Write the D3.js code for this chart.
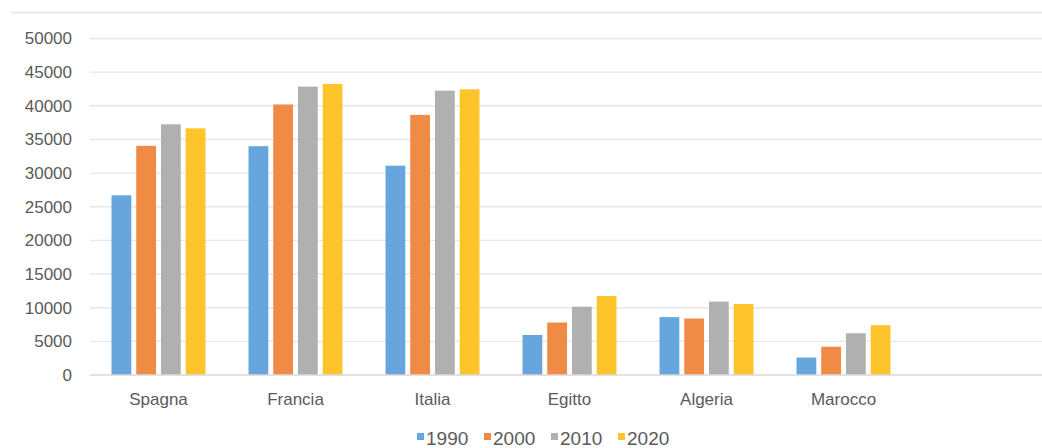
<!DOCTYPE html>
<html>
<head>
<meta charset="utf-8">
<script src="https://cdn.jsdelivr.net/npm/d3@7"></script>
<style>
  html, body { margin: 0; padding: 0; background: #ffffff; }
  svg { display: block; font-family: "Liberation Sans", Arial, Helvetica, sans-serif; }
</style>
</head>
<body>
<svg id="chart" width="1042" height="448"></svg>
<script>
// Countries on the x axis
const categories = ["Spagna", "Francia", "Italia", "Egitto", "Algeria", "Marocco"];
// Series (one per year), values per country
const years = ["1990", "2000", "2010", "2020"];
const values1990 = [26700, 34000, 31100, 5950, 8600, 2600];
const values2000 = [34050, 40200, 38650, 7800, 8400, 4200];
const values2010 = [37250, 42850, 42250, 10150, 10900, 6200];
const values2020 = [36650, 43250, 42450, 11750, 10550, 7400];
// Y axis ticks
const yTicks = [0, 5000, 10000, 15000, 20000, 25000, 30000, 35000, 40000, 45000, 50000];

const seriesValues = [values1990, values2000, values2010, values2020];
const colors = ["#66a6dc", "#ef8b45", "#b0b0b0", "#fdc52b"];

const svg = d3.select("#chart");
const W = 1042;

const plotLeft = 90, bandStep = 137;
const x0 = d3.scaleBand()
  .domain(categories)
  .range([plotLeft, plotLeft + bandStep * categories.length])
  .paddingInner(0).paddingOuter(0);

const x1 = d3.scaleBand()
  .domain(years)
  .range([0, x0.bandwidth()])
  .paddingInner(0.2)
  .paddingOuter(0.87);

const y = d3.scaleLinear().domain([0, 50000]).range([375, 38.5]);

const color = d3.scaleOrdinal().domain(years).range(colors);

// Outer frame line at the top
svg.append("line")
  .attr("x1", 11).attr("x2", W)
  .attr("y1", 12.5).attr("y2", 12.5)
  .attr("stroke", "#e4e4e4").attr("stroke-width", 1.3);

// Horizontal gridlines
svg.append("g")
  .selectAll("line")
  .data(yTicks.filter(d => d > 0))
  .join("line")
  .attr("x1", plotLeft).attr("x2", W)
  .attr("y1", d => y(d)).attr("y2", d => y(d))
  .attr("stroke", "#e7e7e7").attr("stroke-width", 1.4);

// Y axis labels
const yAxis = d3.axisLeft(y).tickValues(yTicks).tickSize(0).tickPadding(0).tickFormat(d3.format("d"));
svg.append("g")
  .attr("transform", "translate(72,0)")
  .call(yAxis)
  .call(g => g.select(".domain").remove())
  .call(g => g.selectAll("text")
    .attr("fill", "#5a5a5a")
    .attr("font-size", "17px")
    .attr("font-family", "Liberation Sans, Arial, sans-serif"));

// Bars
const rows = categories.map((c, i) => ({
  category: c,
  bars: years.map((yr, j) => ({ year: yr, value: seriesValues[j][i] }))
}));

svg.append("g")
  .selectAll("g")
  .data(rows)
  .join("g")
  .attr("transform", d => `translate(${x0(d.category)},0)`)
  .selectAll("rect")
  .data(d => d.bars)
  .join("rect")
  .attr("x", d => x1(d.year))
  .attr("width", x1.bandwidth())
  .attr("y", d => y(d.value))
  .attr("height", d => y(0) - y(d.value))
  .attr("fill", d => color(d.year));

// Baseline
svg.append("line")
  .attr("x1", plotLeft).attr("x2", W)
  .attr("y1", y(0)).attr("y2", y(0))
  .attr("stroke", "#d9d9d9").attr("stroke-width", 1.4);

// Category labels
const xAxis = d3.axisBottom(x0).tickSize(0).tickPadding(0);
svg.append("g")
  .attr("transform", `translate(0,${y(0)})`)
  .call(xAxis)
  .call(g => g.select(".domain").remove())
  .call(g => g.selectAll("text")
    .attr("dy", null)
    .attr("y", 30)
    .attr("fill", "#5a5a5a")
    .attr("font-size", "17px")
    .attr("font-family", "Liberation Sans, Arial, sans-serif"));

// Legend
const legendX = 417, legendStep = 67, legendY = 441;
const legend = svg.append("g")
  .selectAll("g")
  .data(years)
  .join("g")
  .attr("transform", (d, i) => `translate(${legendX + i * legendStep},${legendY})`);

legend.append("rect")
  .attr("x", 0).attr("y", -8)
  .attr("width", 7).attr("height", 7)
  .attr("fill", d => color(d));

legend.append("text")
  .attr("x", 9).attr("y", 4)
  .attr("fill", "#5a5a5a")
  .attr("font-size", "19px")
  .text(d => d);
</script>
</body>
</html>
